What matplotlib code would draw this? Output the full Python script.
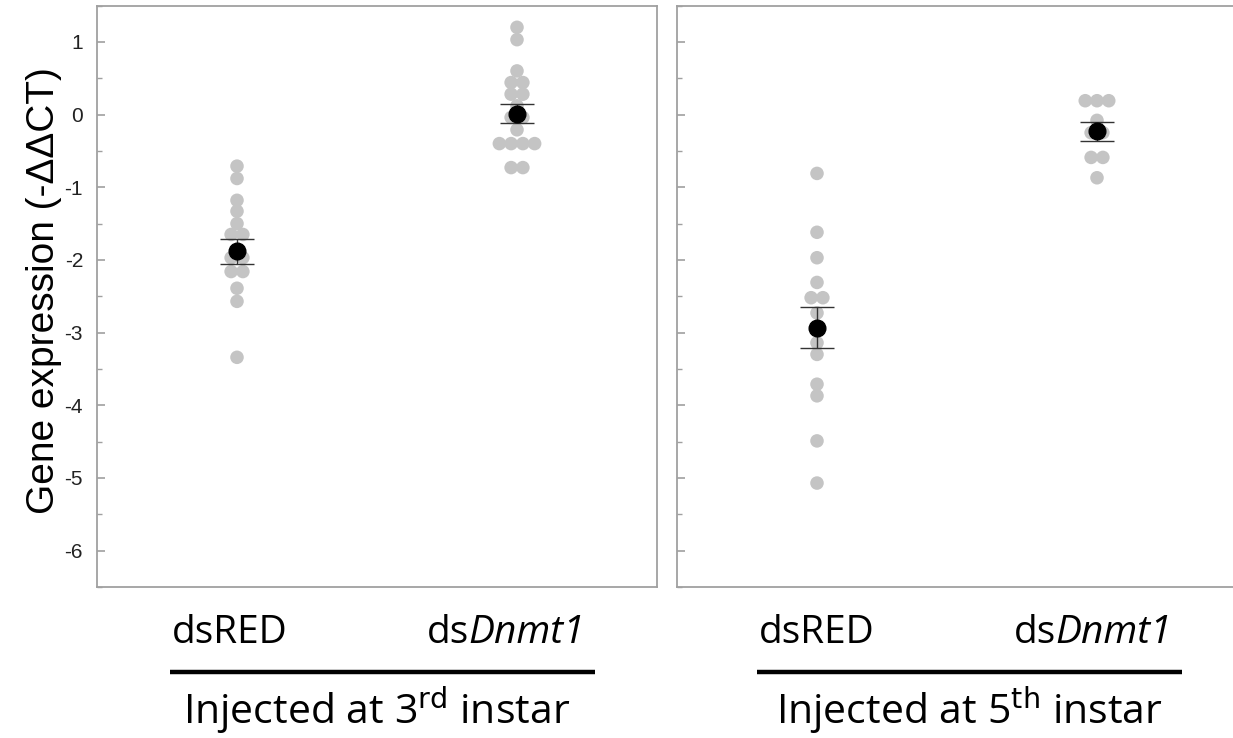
import matplotlib.pyplot as plt
import numpy as np
from matplotlib.transforms import offset_copy

plt.rcParams["font.family"] = ["Liberation Sans", "DejaVu Sans"]
plt.rcParams["axes.unicode_minus"] = False

# ─── data ───────────────────────────────────────────────────────────
groups = ["dsRED", "dsDnmt1"]
stage_labels = [r"Injected at 3$^{\rm rd}$ instar", r"Injected at 5$^{\rm th}$ instar"]

inst3_dsred = [-0.71, -0.88, -1.18, -1.33, -1.50, -1.65, -1.65,
               -1.97, -1.97, -2.16, -2.16, -2.39, -2.57, -3.34]
inst3_dsdnmt1 = [1.20, 1.03, 0.60, 0.44, 0.44, 0.28, 0.28, 0.12,
                 -0.04, -0.04, -0.21, -0.40, -0.40, -0.40, -0.40, -0.73, -0.73]
inst5_dsred = [-0.81, -1.62, -1.97, -2.31, -2.52, -2.52, -2.73,
               -3.14, -3.30, -3.71, -3.87, -4.49, -5.07]
inst5_dsdnmt1 = [0.19, 0.19, 0.19, -0.08, -0.25, -0.25, -0.59, -0.59, -0.87]

inst3_mean = [-1.88, 0.01]
inst3_sem = [0.17, 0.13]
inst5_mean = [-2.93, -0.23]
inst5_sem = [0.28, 0.13]

POINT_C = "#c4c4c4"
SPINE_C = "#a0a0a0"
SWARM_DX = 0.042
LAB_FAMILY = ["Open Sans", "DejaVu Sans"]


def swarm_offsets(vals, dx):
    """Spread equal values side by side around the category centre."""
    vals = np.asarray(vals)
    offs = np.zeros(len(vals))
    for v in np.unique(vals):
        idx = np.where(vals == v)[0]
        n = len(idx)
        offs[idx] = (np.arange(n) - (n - 1) / 2) * dx
    return offs


def draw_panel(ax, series, means, sems, show_labels):
    for i, vals in enumerate(series):
        x = i + swarm_offsets(vals, SWARM_DX)
        ax.scatter(x, vals, s=95, color=POINT_C, edgecolors="none", zorder=2)
    ax.errorbar(range(len(means)), means, yerr=sems, fmt="none", ecolor="#333333",
                elinewidth=1.0, capsize=12.5, capthick=1.0, zorder=3)
    ax.plot(range(len(means)), means, "o", color="black", ms=12, zorder=4)

    ax.set_xlim(-0.5, 1.5)
    ax.set_ylim(-6.49, 1.49)
    ax.set_yticks(np.arange(-6, 2, 1))
    ax.set_yticks(np.arange(-6.5, 1.6, 0.5), minor=True)
    ax.set_xticks([])
    ax.tick_params(axis="y", which="both", direction="in", colors=SPINE_C,
                   labelcolor="#222222", labelsize=15, pad=10)
    ax.tick_params(axis="y", which="major", length=6, width=1.2)
    ax.tick_params(axis="y", which="minor", length=3.5, width=1.0)
    if not show_labels:
        ax.tick_params(axis="y", which="both", labelleft=False)
    for sp in ax.spines.values():
        sp.set_color(SPINE_C)
        sp.set_linewidth(1.3)


fig = plt.figure(figsize=(12.33, 7.38), dpi=100)

W, H = 1233, 738
ax1 = fig.add_axes([97 / W, 1 - 587 / H, 560 / W, 581.5 / H])
ax2 = fig.add_axes([677 / W, 1 - 587 / H, 560 / W, 581.5 / H])

draw_panel(ax1, [inst3_dsred, inst3_dsdnmt1], inst3_mean, inst3_sem, True)
draw_panel(ax2, [inst5_dsred, inst5_dsdnmt1], inst5_mean, inst5_sem, False)

ax1.set_ylabel("Gene expression (-ΔΔCT)", fontsize=28)
ax1.yaxis.set_label_coords(-0.062, 0.51)

# ─── category labels, group bars and stage labels below the axes ────
renderer = fig.canvas.get_renderer()
# (panel, dsRED x, dsDnmt1 x, bar x-range, stage label x)
layout = [(ax1, -0.025, 0.96, (-0.24, 1.28), 0.50, stage_labels[0]),
          (ax2, 0.00, 0.985, (-0.215, 1.305), 0.545, stage_labels[1])]
for ax, x_red, x_dnmt, (b0, b1), x_stage, stage in layout:
    ax.text(x_red, -7.27, groups[0], ha="center", va="baseline", fontsize=28,
            family=LAB_FAMILY, clip_on=False)
    # "ds" upright + "Dnmt1" italic, centred together on the category
    t1 = ax.text(x_dnmt, -7.27, "ds", ha="left", va="baseline", fontsize=28,
                 family=LAB_FAMILY)
    t2 = ax.text(x_dnmt, -7.27, "Dnmt1", ha="left", va="baseline", fontsize=28,
                 family=LAB_FAMILY, style="italic")
    w1 = t1.get_window_extent(renderer).width
    w2 = t2.get_window_extent(renderer).width
    t1.set_transform(offset_copy(ax.transData, fig, x=-(w1 + w2) / 2, units="dots"))
    t2.set_transform(offset_copy(ax.transData, fig, x=-(w1 + w2) / 2 + w1, units="dots"))

    ax.plot([b0, b1], [-7.67, -7.67], color="black", lw=3.2,
            solid_capstyle="butt", clip_on=False)
    ax.text(x_stage, -8.38, stage, ha="center", va="baseline", fontsize=29.5,
            family=LAB_FAMILY, clip_on=False)

fig.savefig("out.png", dpi=100)
